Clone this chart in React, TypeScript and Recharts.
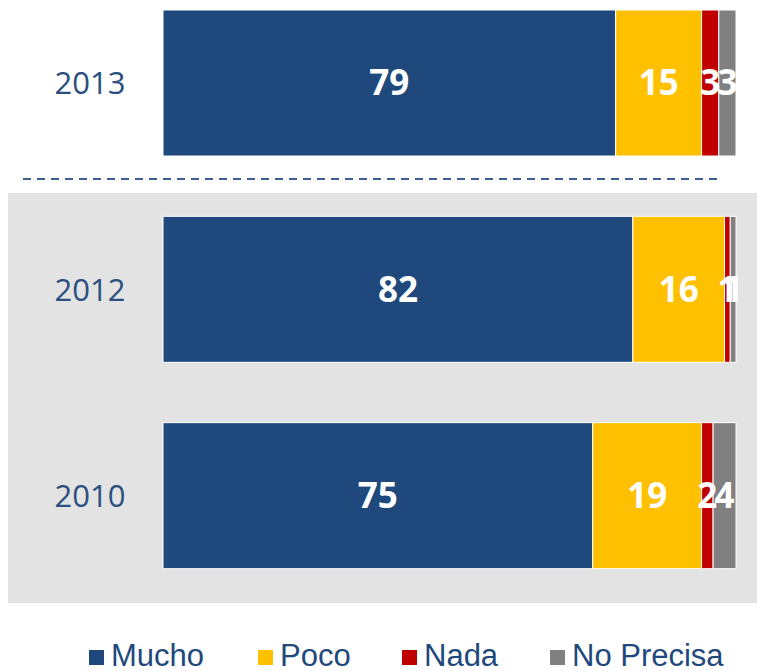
import { BarChart, Bar, XAxis, YAxis, LabelList, Legend } from "recharts";

const years = ["2013", "2012", "2010"];
const mucho = [79, 82, 75];
const poco = [15, 16, 19];
const nada = [3, 1, 2];
const noPrecisa = [3, 1, 4];

const seriesNames = ["Mucho", "Poco", "Nada", "No Precisa"];
const seriesColors = ["#1F497D", "#FFC000", "#C00000", "#808080"];
const seriesKeys = ["mucho", "poco", "nada", "noPrecisa"];

const data = years.map((year, i) => ({
  year,
  mucho: mucho[i],
  poco: poco[i],
  nada: nada[i],
  noPrecisa: noPrecisa[i],
}));

function YearTick(props: any) {
  const { y, payload } = props;
  return (
    <text
      x={90}
      y={y}
      dy={11}
      textAnchor="middle"
      fill="#2B4F80"
      fontSize={31}
      fontFamily="'Open Sans', sans-serif"
    >
      {payload.value}
    </text>
  );
}

// legend squares sit at fixed x like the original slide
function LegendContent() {
  const xs = [89, 258, 402, 550];
  return (
    <div style={{ position: "relative", height: 40 }}>
      {seriesNames.map((name, i) => (
        <div
          key={name}
          style={{
            position: "absolute",
            left: xs[i],
            top: 0,
            height: 40,
            whiteSpace: "nowrap",
          }}
        >
          <span
            style={{
              position: "absolute",
              left: 0,
              top: 12,
              width: 15,
              height: 15,
              background: seriesColors[i],
            }}
          />
          <span
            style={{
              position: "absolute",
              left: 22,
              top: 0,
              lineHeight: "36px",
              fontFamily: "'Liberation Sans', Arial, sans-serif",
              fontSize: 31,
              color: "#1F497D",
            }}
          >
            {name}
          </span>
        </div>
      ))}
    </div>
  );
}

export default function App() {
  return (
    <div
      style={{
        position: "absolute",
        left: 0,
        top: 0,
        width: 757,
        height: 671,
        background: "#fff",
        overflow: "hidden",
      }}
    >
      <div
        style={{
          position: "absolute",
          left: 8,
          top: 193,
          width: 749,
          height: 410,
          background: "#E3E3E3",
        }}
      />
      <svg
        width={757}
        height={671}
        style={{ position: "absolute", left: 0, top: 0 }}
      >
        <line
          x1={23}
          x2={718}
          y1={179}
          y2={179}
          stroke="#3C5F8E"
          strokeWidth={2}
          strokeDasharray="8 6"
        />
      </svg>
      <div style={{ position: "absolute", left: 0, top: 0 }}>
        <BarChart
          width={757}
          height={671}
          data={data}
          layout="vertical"
          margin={{ top: -20, right: 21, bottom: 32, left: 0 }}
          barSize={146}
        >
          <XAxis type="number" domain={[0, 100]} hide />
          <YAxis
            type="category"
            dataKey="year"
            width={163}
            axisLine={false}
            tickLine={false}
            tick={<YearTick />}
          />
          <Legend
            verticalAlign="bottom"
            content={<LegendContent />}
            wrapperStyle={{ left: 0, top: 638, width: 757, height: 40 }}
          />
          {seriesKeys.map((key, i) => (
            <Bar
              key={key}
              dataKey={key}
              name={seriesNames[i]}
              stackId="a"
              fill={seriesColors[i]}
              stroke="#FFFFFF"
              strokeWidth={1}
              isAnimationActive={false}
            >
              <LabelList
                dataKey={key}
                position="center"
                fill="#FFFFFF"
                fontSize={35}
                fontWeight="bold"
                fontFamily="'Open Sans', sans-serif"
              />
            </Bar>
          ))}
        </BarChart>
      </div>
    </div>
  );
}
